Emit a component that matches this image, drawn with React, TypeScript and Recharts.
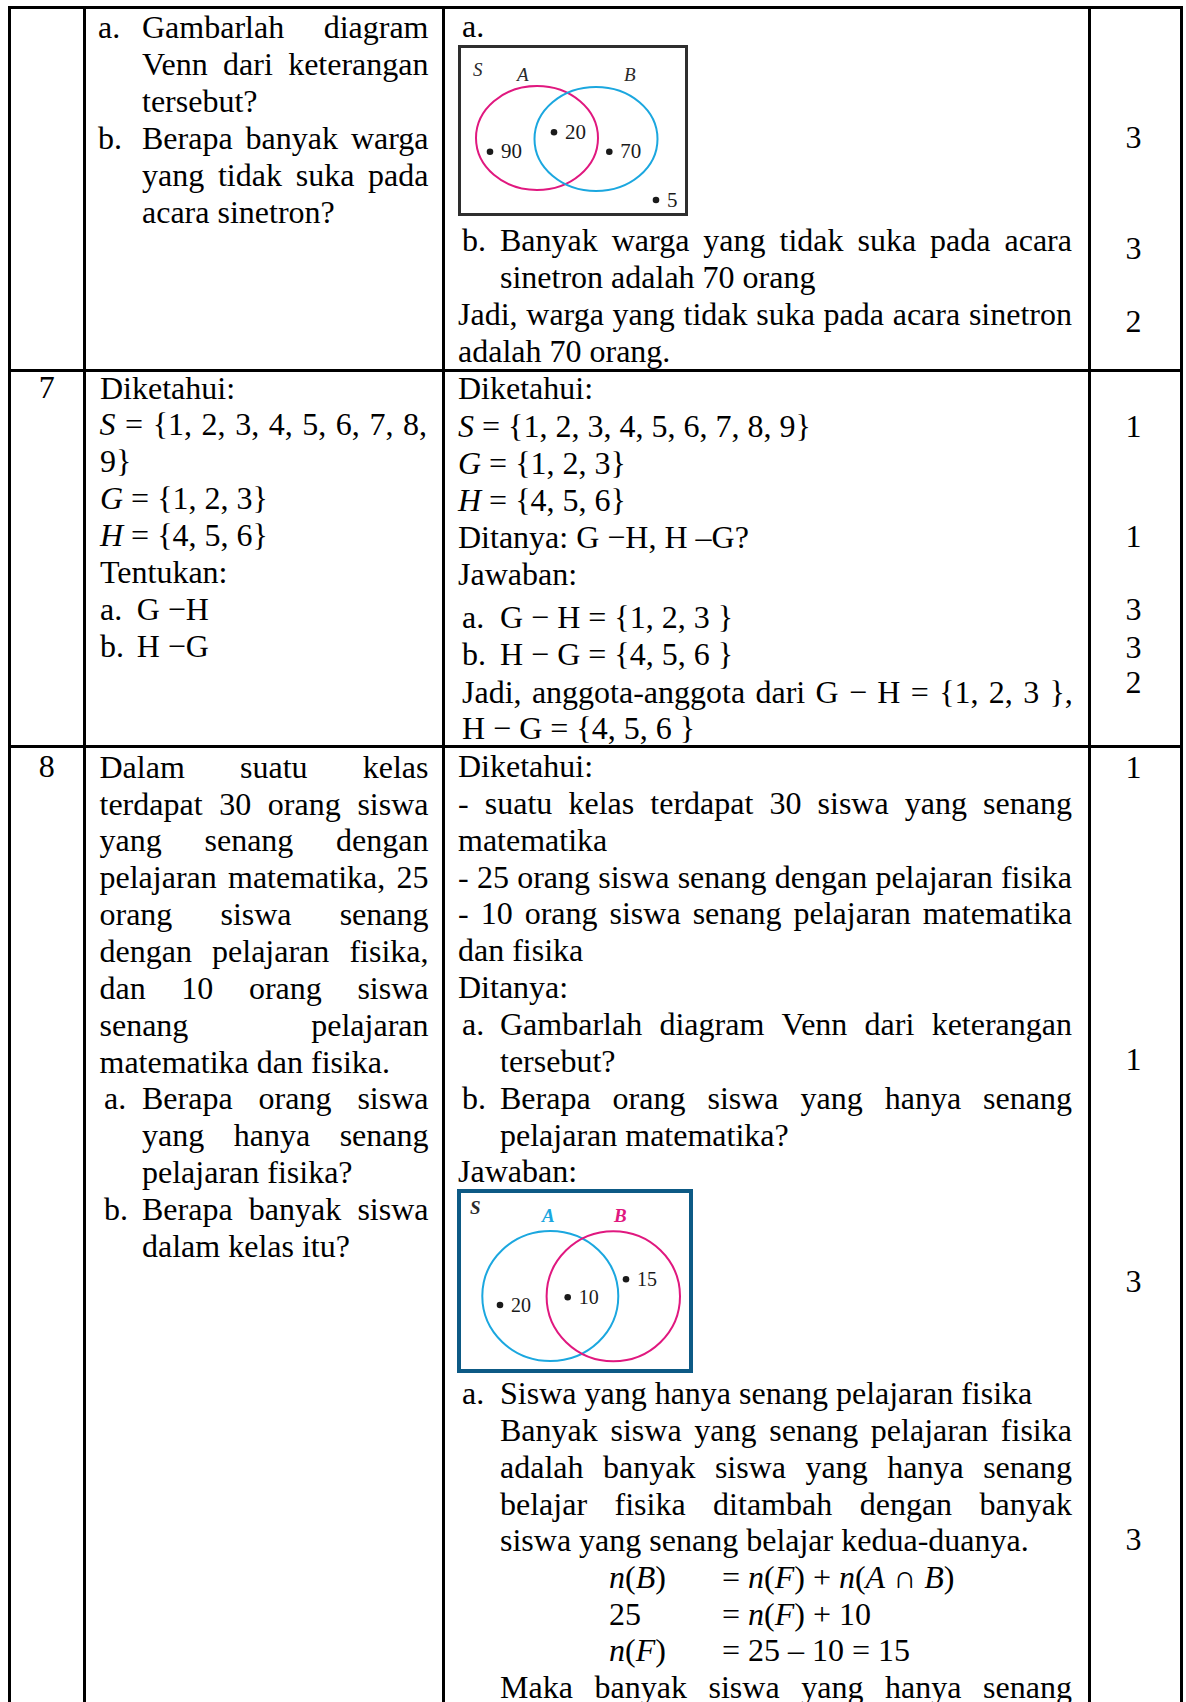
import React from 'react';
import { ScatterChart, Scatter, XAxis, YAxis } from 'recharts';

const FONT = '"Liberation Serif", "Times New Roman", serif';
const PINK = '#e0187f';
const BLUE = '#1ba7df';

// soal 6: warga yang suka acara A / B
const venn1Sets = ['A', 'B'];
const venn1Regions = ['A saja', 'A ∩ B', 'B saja', 'di luar A dan B'];
const venn1Counts = [90, 20, 70, 5];

// soal 8: siswa matematika (A) / fisika (B)
const venn2Sets = ['A', 'B'];
const venn2Regions = ['A saja', 'A ∩ B', 'B saja'];
const venn2Counts = [20, 10, 15];

// skor tiap langkah
const scores6 = [3, 3, 2];
const scores7 = [1, 1, 3, 3, 2];
const scores8 = [1, 1, 3, 3];

// layout of the two venn pictures (inner pixel units)
const venn1Layout = {
  w: 224,
  h: 165,
  sets: [
    { cx: 76, cy: 90, rx: 61, ry: 52, color: PINK, lx: 56, ly: 33 },
    { cx: 135, cy: 91, rx: 61.5, ry: 52, color: BLUE, lx: 163, ly: 33 },
  ],
  universe: { lx: 12, ly: 28 },
  dots: [[29, 103.7], [93, 84.3], [148.3, 103.7], [195, 152]],
};

const venn2Layout = {
  w: 228,
  h: 176,
  sets: [
    { cx: 89.3, cy: 103, rx: 68, ry: 65, color: BLUE, lx: 81, ly: 28.7 },
    { cx: 152.3, cy: 103.3, rx: 66.7, ry: 65, color: PINK, lx: 153, ly: 28.7 },
  ],
  universe: { lx: 9, ly: 21 },
  dots: [[39, 112], [106.7, 104.3], [165, 86.3]],
};

const FS = 32;
const BASE = 28.8;

const rich = (s: string) =>
  s.split(/(\*[^*]+\*)/).map((part, i) =>
    part.startsWith('*') && part.endsWith('*') && part.length > 1 ? (
      <i key={i}>{part.slice(1, -1)}</i>
    ) : (
      <React.Fragment key={i}>{part}</React.Fragment>
    )
  );

type L = { x: number; y: number; t: string; w?: number };

const Ln = ({ x, y, t, w }: L) => {
  const style: React.CSSProperties = {
    position: 'absolute',
    left: x,
    top: y - BASE,
    fontSize: FS,
    lineHeight: '36px',
    whiteSpace: 'pre',
  };
  if (w) {
    return (
      <div style={{ ...style, width: w, display: 'flex', justifyContent: 'space-between' }}>
        {t.split(/ +/).map((word, i) => (
          <span key={i}>{rich(word)}</span>
        ))}
      </div>
    );
  }
  return <div style={style}>{rich(t)}</div>;
};

const Score = ({ y, v, left, width }: { y: number; v: number | string; left: number; width: number }) => (
  <div
    style={{
      position: 'absolute',
      left,
      width,
      top: y - BASE,
      fontSize: FS,
      lineHeight: '36px',
      textAlign: 'center',
    }}
  >
    {v}
  </div>
);

const lines: L[] = [
  // soal 6 - kolom soal
  { x: 98, y: 38, t: 'a.' },
  { x: 142, y: 38, t: 'Gambarlah diagram', w: 286.5 },
  { x: 142, y: 75, t: 'Venn dari keterangan', w: 286.5 },
  { x: 142, y: 112, t: 'tersebut?' },
  { x: 98, y: 149, t: 'b.' },
  { x: 142, y: 149, t: 'Berapa banyak warga', w: 286.5 },
  { x: 142, y: 186, t: 'yang tidak suka pada', w: 286.5 },
  { x: 142, y: 223, t: 'acara sinetron?' },
  // soal 6 - jawaban
  { x: 462, y: 37, t: 'a.' },
  { x: 462, y: 251, t: 'b.' },
  { x: 500, y: 251, t: 'Banyak warga yang tidak suka pada acara', w: 572 },
  { x: 500, y: 288, t: 'sinetron adalah 70 orang' },
  { x: 458, y: 324.7, t: 'Jadi, warga yang tidak suka pada acara sinetron', w: 614 },
  { x: 458, y: 361.3, t: 'adalah 70 orang.' },
  // soal 7 - kolom soal
  { x: 100, y: 398.3, t: 'Diketahui:' },
  { x: 99.5, y: 435.2, t: '*S* = {1, 2, 3, 4, 5, 6, 7, 8,', w: 327.5 },
  { x: 100, y: 472.1, t: '9}' },
  { x: 100, y: 509, t: '*G* = {1, 2, 3}' },
  { x: 100, y: 545.9, t: '*H* = {4, 5, 6}' },
  { x: 100, y: 582.8, t: 'Tentukan:' },
  { x: 100, y: 619.7, t: 'a.' },
  { x: 136.7, y: 619.7, t: 'G −H' },
  { x: 100, y: 656.6, t: 'b.' },
  { x: 136.7, y: 656.6, t: 'H −G' },
  // soal 7 - jawaban
  { x: 458, y: 398.3, t: 'Diketahui:' },
  { x: 458, y: 437, t: '*S* = {1, 2, 3, 4, 5, 6, 7, 8, 9}' },
  { x: 458, y: 474, t: '*G* = {1, 2, 3}' },
  { x: 458, y: 511, t: '*H* = {4, 5, 6}' },
  { x: 458, y: 548, t: 'Ditanya: G −H, H –G?' },
  { x: 458, y: 585, t: 'Jawaban:' },
  { x: 462, y: 627.5, t: 'a.' },
  { x: 500, y: 627.5, t: 'G − H = {1, 2, 3 }' },
  { x: 462, y: 665, t: 'b.' },
  { x: 500, y: 665, t: 'H − G = {4, 5, 6 }' },
  { x: 462, y: 703, t: 'Jadi,  anggota-anggota dari G − H = {1, 2, 3 },', w: 611 },
  { x: 462, y: 739, t: 'H − G = {4, 5, 6 }' },
  // soal 8 - kolom soal
  { x: 99.5, y: 777.5, t: 'Dalam suatu kelas', w: 329 },
  { x: 99.5, y: 814.35, t: 'terdapat 30 orang siswa', w: 329 },
  { x: 99.5, y: 851.2, t: 'yang senang dengan', w: 329 },
  { x: 99.5, y: 888.05, t: 'pelajaran matematika, 25', w: 329 },
  { x: 99.5, y: 924.9, t: 'orang siswa senang', w: 329 },
  { x: 99.5, y: 961.75, t: 'dengan pelajaran fisika,', w: 329 },
  { x: 99.5, y: 998.6, t: 'dan 10 orang siswa', w: 329 },
  { x: 99.5, y: 1035.45, t: 'senang pelajaran', w: 329 },
  { x: 99.5, y: 1072.3, t: 'matematika dan fisika.' },
  { x: 104, y: 1109.15, t: 'a.' },
  { x: 142, y: 1109.15, t: 'Berapa orang siswa', w: 286.5 },
  { x: 142, y: 1146, t: 'yang hanya senang', w: 286.5 },
  { x: 142, y: 1182.85, t: 'pelajaran fisika?' },
  { x: 104, y: 1219.7, t: 'b.' },
  { x: 142, y: 1219.7, t: 'Berapa banyak siswa', w: 286.5 },
  { x: 142, y: 1256.55, t: 'dalam kelas itu?' },
  // soal 8 - jawaban
  { x: 458, y: 776.7, t: 'Diketahui:' },
  { x: 458, y: 813.6, t: '- suatu kelas terdapat 30 siswa yang senang', w: 614 },
  { x: 458, y: 850.4, t: 'matematika' },
  { x: 458, y: 887.3, t: '- 25 orang siswa senang dengan pelajaran fisika', w: 614 },
  { x: 458, y: 924.2, t: '- 10 orang siswa senang pelajaran matematika', w: 614 },
  { x: 458, y: 961, t: 'dan fisika' },
  { x: 458, y: 997.9, t: 'Ditanya:' },
  { x: 462, y: 1034.8, t: 'a.' },
  { x: 500, y: 1034.8, t: 'Gambarlah diagram Venn dari keterangan', w: 572 },
  { x: 500, y: 1071.6, t: 'tersebut?' },
  { x: 462, y: 1108.5, t: 'b.' },
  { x: 500, y: 1108.5, t: 'Berapa orang siswa yang hanya senang', w: 572 },
  { x: 500, y: 1145.4, t: 'pelajaran matematika?' },
  { x: 458, y: 1182.2, t: 'Jawaban:' },
  { x: 462, y: 1403.3, t: 'a.' },
  { x: 500, y: 1403.3, t: 'Siswa yang hanya senang pelajaran fisika' },
  { x: 500, y: 1440.5, t: 'Banyak siswa yang senang pelajaran fisika', w: 572 },
  { x: 500, y: 1477.5, t: 'adalah banyak siswa yang hanya senang', w: 572 },
  { x: 500, y: 1514.3, t: 'belajar fisika ditambah dengan banyak', w: 572 },
  { x: 500, y: 1550.5, t: 'siswa yang senang belajar kedua-duanya.' },
  { x: 609, y: 1588, t: '*n*(*B*)' },
  { x: 722, y: 1588, t: '= *n*(*F*) + *n*(*A* ∩ *B*)' },
  { x: 609, y: 1625, t: '25' },
  { x: 722, y: 1625, t: '= *n*(*F*) + 10' },
  { x: 609, y: 1661, t: '*n*(*F*)' },
  { x: 722, y: 1661, t: '= 25 – 10 = 15' },
  { x: 500, y: 1698, t: 'Maka banyak siswa yang hanya senang', w: 572 },
];

const scoreRows: [number, number][] = [
  [148, scores6[0]],
  [259, scores6[1]],
  [331.5, scores6[2]],
  [436.5, scores7[0]],
  [546.5, scores7[1]],
  [620, scores7[2]],
  [657.5, scores7[3]],
  [693, scores7[4]],
  [777.5, scores8[0]],
  [1070, scores8[1]],
  [1292, scores8[2]],
  [1550, scores8[3]],
];

type VennProps = {
  layout: typeof venn1Layout;
  sets: string[];
  regions: string[];
  counts: number[];
  bold?: boolean;
  labelSize: number;
  valueSize: number;
};

const VennChart = ({ layout, sets, regions, counts, bold, labelSize, valueSize }: VennProps) => {
  const setData = sets.map((name, i) => ({ name, x: layout.sets[i].cx, y: layout.sets[i].cy, ...layout.sets[i] }));
  const labelData = [
    { name: 'S', x: layout.universe.lx, y: layout.universe.ly, color: '#2a2a2a' },
    ...sets.map((name, i) => ({ name, x: layout.sets[i].lx, y: layout.sets[i].ly, color: bold ? layout.sets[i].color : '#2a2a2a' })),
  ];
  const dotData = counts.map((value, i) => ({ region: regions[i], value, x: layout.dots[i][0], y: layout.dots[i][1] }));

  return (
    <ScatterChart width={layout.w} height={layout.h} margin={{ top: 0, right: 0, bottom: 0, left: 0 }}>
      <XAxis type="number" dataKey="x" domain={[0, layout.w]} allowDataOverflow hide />
      <YAxis type="number" dataKey="y" domain={[0, layout.h]} allowDataOverflow reversed hide />
      <Scatter
        data={setData}
        isAnimationActive={false}
        shape={(p: any) => (
          <ellipse cx={p.cx} cy={p.cy} rx={p.payload.rx} ry={p.payload.ry} fill="none" stroke={p.payload.color} strokeWidth={2} />
        )}
      />
      <Scatter
        data={labelData}
        isAnimationActive={false}
        shape={(p: any) => (
          <text
            x={p.cx}
            y={p.cy}
            fontFamily={FONT}
            fontSize={labelSize}
            fontStyle="italic"
            fontWeight={bold ? 700 : 400}
            fill={p.payload.color}
          >
            {p.payload.name}
          </text>
        )}
      />
      <Scatter
        data={dotData}
        isAnimationActive={false}
        shape={(p: any) => (
          <g>
            <circle cx={p.cx} cy={p.cy} r={3.3} fill="#1a1a1a" />
            <text x={p.cx + 11} y={p.cy + 6.5} fontFamily={FONT} fontSize={valueSize} fill="#1a1a1a">
              {p.payload.value}
            </text>
          </g>
        )}
      />
    </ScatterChart>
  );
};

const vLines = [8, 82.5, 441.5, 1087.5, 1179.5];
const hLines = [6, 368.5, 745];

export default function App() {
  return (
    <div
      style={{
        position: 'absolute',
        left: 0,
        top: 0,
        width: 1186,
        height: 1702,
        overflow: 'hidden',
        background: '#fff',
        color: '#000',
        fontFamily: FONT,
      }}
    >
      {hLines.map((y, i) => (
        <div key={'h' + i} style={{ position: 'absolute', left: 8, top: y, width: 1174.5, height: 3, background: '#000' }} />
      ))}
      {vLines.map((x, i) => (
        <div key={'v' + i} style={{ position: 'absolute', left: x, top: 6, width: 3, height: 1702, background: '#000' }} />
      ))}

      <Score y={398} v={7} left={11} width={71.5} />
      <Score y={777} v={8} left={11} width={71.5} />
      {scoreRows.map(([y, v], i) => (
        <Score key={i} y={y} v={v} left={1090} width={87} />
      ))}

      {lines.map((l, i) => (
        <Ln key={i} {...l} />
      ))}

      <div
        style={{
          position: 'absolute',
          left: 458,
          top: 45,
          width: 230,
          height: 171,
          boxSizing: 'border-box',
          border: '3px solid #2e2e2e',
        }}
      >
        <VennChart layout={venn1Layout} sets={venn1Sets} regions={venn1Regions} counts={venn1Counts} labelSize={19} valueSize={21} />
      </div>

      <div
        style={{
          position: 'absolute',
          left: 457,
          top: 1189,
          width: 236,
          height: 184,
          boxSizing: 'border-box',
          border: '4px solid #0d5a85',
        }}
      >
        <VennChart layout={venn2Layout} sets={venn2Sets} regions={venn2Regions} counts={venn2Counts} bold labelSize={19} valueSize={20} />
      </div>
    </div>
  );
}
